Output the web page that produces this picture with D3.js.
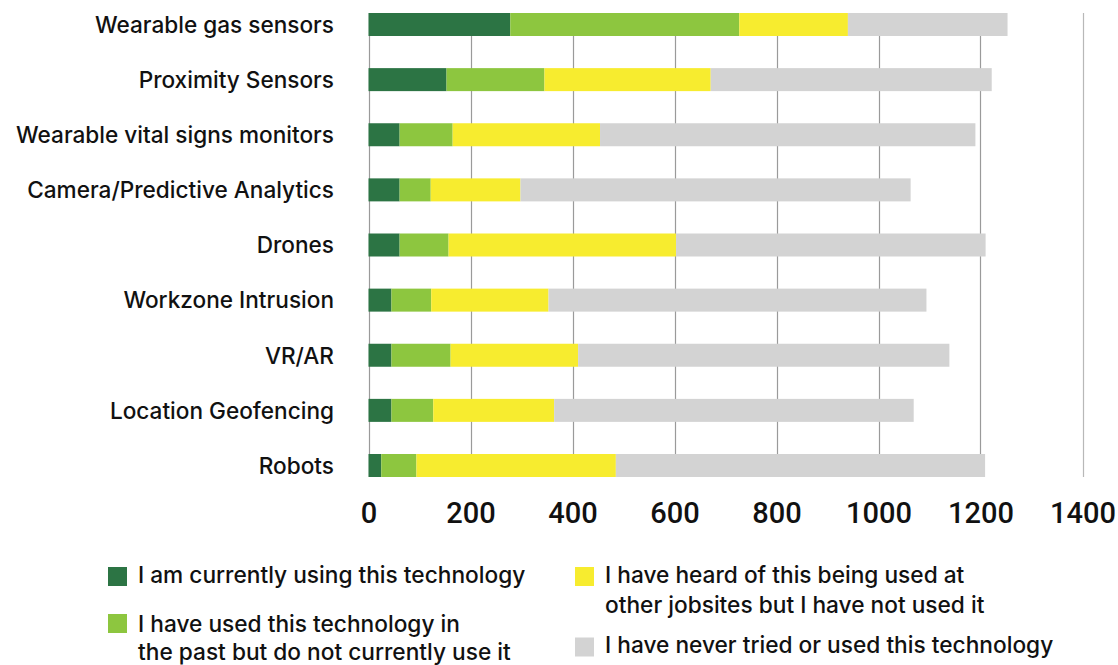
<!DOCTYPE html>
<html>
<head>
<meta charset="utf-8">
<script src="https://cdn.jsdelivr.net/npm/d3@7"></script>
<style>
  html, body { margin: 0; padding: 0; background: #fff; }
  svg { display: block; }
  text { font-family: Inter, Roboto, "Noto Sans", sans-serif; fill: #111; }
</style>
</head>
<body>
<svg id="chart" width="1118" height="665"></svg>
<script>
const categories = ["Wearable gas sensors", "Proximity Sensors", "Wearable vital signs monitors",
  "Camera/Predictive Analytics", "Drones", "Workzone Intrusion", "VR/AR", "Location Geofencing", "Robots"];
const seriesNames = ["I am currently using this technology",
  "I have used this technology in the past but do not currently use it",
  "I have heard of this being used at other jobsites but I have not used it",
  "I have never tried or used this technology"];
const currentlyUsing = [278, 153, 61, 61, 61, 45, 45, 45, 25];
const usedInPast     = [449, 192, 104, 61, 96, 78, 116, 82, 69];
const heardOf        = [213, 326, 289, 176, 446, 230, 250, 237, 391];
const neverTried     = [313, 551, 736, 765, 607, 741, 728, 705, 724];
const tickValues = [0, 200, 400, 600, 800, 1000, 1200, 1400];
const colors = ["#2c7444", "#8dc63f", "#f7ec2f", "#d3d3d3"];

const svg = d3.select("#chart");
const x = d3.scaleLinear().domain([0, 1400]).range([368.5, 1082.5]);
const y = d3.scaleBand().domain(categories).range([13, 477]).paddingInner(0.5828).paddingOuter(0);

// gridlines
svg.append("g").selectAll("line").data(tickValues).join("line")
  .attr("x1", d => Math.round(x(d)) + 0.5).attr("x2", d => Math.round(x(d)) + 0.5)
  .attr("y1", 13).attr("y2", 477)
  .attr("stroke", d => d === 1400 ? "#b8b8b8" : "#9a9a9a").attr("stroke-width", 1.2);

// stacked data
const rows = categories.map((c, i) => ({
  cat: c, s0: currentlyUsing[i], s1: usedInPast[i], s2: heardOf[i], s3: neverTried[i]
}));
const stacked = d3.stack().keys(["s0", "s1", "s2", "s3"])(rows);

svg.append("g").selectAll("g").data(stacked).join("g")
  .attr("fill", (d, i) => colors[i])
  .selectAll("rect").data(d => d).join("rect")
  .attr("x", d => x(d[0]))
  .attr("width", d => x(d[1]) - x(d[0]))
  .attr("y", d => y(d.data.cat))
  .attr("height", y.bandwidth());

// category labels
svg.append("g").selectAll("text").data(categories).join("text")
  .attr("x", 334).attr("y", d => y(d) + y.bandwidth() / 2)
  .attr("dy", "0.37em").attr("text-anchor", "end")
  .style("font-size", "22.6px").style("font-weight", 500)
  .text(d => d);

// x axis labels
const xAxis = d3.axisBottom(x).tickValues(tickValues).tickFormat(d3.format("d")).tickSize(0).tickPadding(0);
const gx = svg.append("g").attr("transform", "translate(0,500)").call(xAxis);
gx.select(".domain").remove();
gx.selectAll("text").attr("dy", null).attr("y", 23)
  .style("font-family", "Roboto, sans-serif").style("font-size", "29px").style("font-weight", 500).attr("fill", "#111");

// legend
const legendItems = [
  { i: 0, x: 108, y: 567, lines: ["I am currently using this technology"], base: 583, lh: 28 },
  { i: 1, x: 108, y: 614, lines: ["I have used this technology in", "the past but do not currently use it"], base: 632, lh: 28.3 },
  { i: 2, x: 575, y: 567, lines: ["I have heard of this being used at", "other jobsites but I have not used it"], base: 583.3, lh: 30 },
  { i: 3, x: 575, y: 637.5, lines: ["I have never tried or used this technology"], base: 652.5, lh: 28 }
];
const lg = svg.append("g").selectAll("g").data(legendItems).join("g");
lg.append("rect").attr("x", d => d.x).attr("y", d => d.y).attr("width", 19).attr("height", 19)
  .attr("fill", d => colors[d.i]);
lg.each(function(d) {
  const g = d3.select(this);
  d.lines.forEach((l, k) => {
    g.append("text").attr("x", d.x + 30).attr("y", d.base + k * d.lh)
      .style("font-size", "22.7px").style("font-weight", 500).text(l);
  });
});
</script>
</body>
</html>
